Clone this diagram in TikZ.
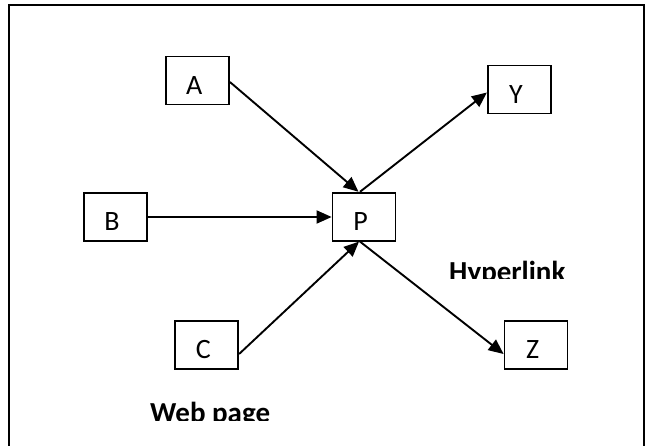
\documentclass[tikz,border=0pt]{standalone}
\usepackage{fontspec}
\setmainfont{Carlito}
\usetikzlibrary{arrows.meta}
\newcommand{\boxlab}[1]{\raisebox{-13.8pt}[0pt][0pt]{\makebox[0pt]{\fontsize{28}{28}\selectfont #1\kern6.8pt}}}
\begin{document}
\begin{tikzpicture}[x=1pt,y=-1pt,
  pagebox/.style={draw=black,line width=1.8pt,minimum width=63pt,minimum height=48pt,inner sep=0pt,fill=white},
  link/.style={draw=black,line width=1.9pt,-{Triangle[length=15pt,width=13pt]}},
  boldlab/.style={inner sep=0pt,font=\fontsize{29}{29}\selectfont\bfseries}]
\useasboundingbox (0,0) rectangle (652,446);
\fill[white] (0,0) rectangle (652,446);
% outer frame (open at the bottom)
\draw[line width=2pt] (9.3,446) -- (9.3,4.8) -- (643.6,4.8) -- (643.6,446);
% boxes
\node[pagebox] (A) at (197.5,80.5) {\boxlab{A}};
\node[pagebox] (B) at (115.5,217) {\boxlab{B}};
\node[pagebox] (P) at (364,216.7) {\boxlab{P}};
\node[pagebox] (Y) at (519.3,89.5) {\boxlab{Y}};
\node[pagebox] (C) at (206.7,345) {\boxlab{C}};
\node[pagebox] (Z) at (536,345) {\boxlab{Z}};
% links
\draw[link] ([yshift=-1.5pt]A.east) -- ([xshift=-5.5pt]P.north);
\draw[link] (B.east) -- (B.east -| P.west);
\draw[link] ([yshift=-9pt]C.east) -- ([xshift=-5pt]P.south);
\draw[link] ([xshift=-4pt]P.north) -- ([yshift=-3pt]Y.west);
\draw[link] ([xshift=-4pt]P.south) -- ([yshift=-9pt]Z.west);
% labels (bottoms cut off as in the picture)
\begin{scope}
\clip (430,250) rectangle (600,278.3);
\node[boldlab,anchor=base west] (hyp) at (449,281.3) {Hyperlink};
\end{scope}
\begin{scope}
\clip (130,390) rectangle (300,420.3);
\node[boldlab,anchor=base west] (web) at (150,422) {Web page};
\end{scope}
\end{tikzpicture}
\end{document}
